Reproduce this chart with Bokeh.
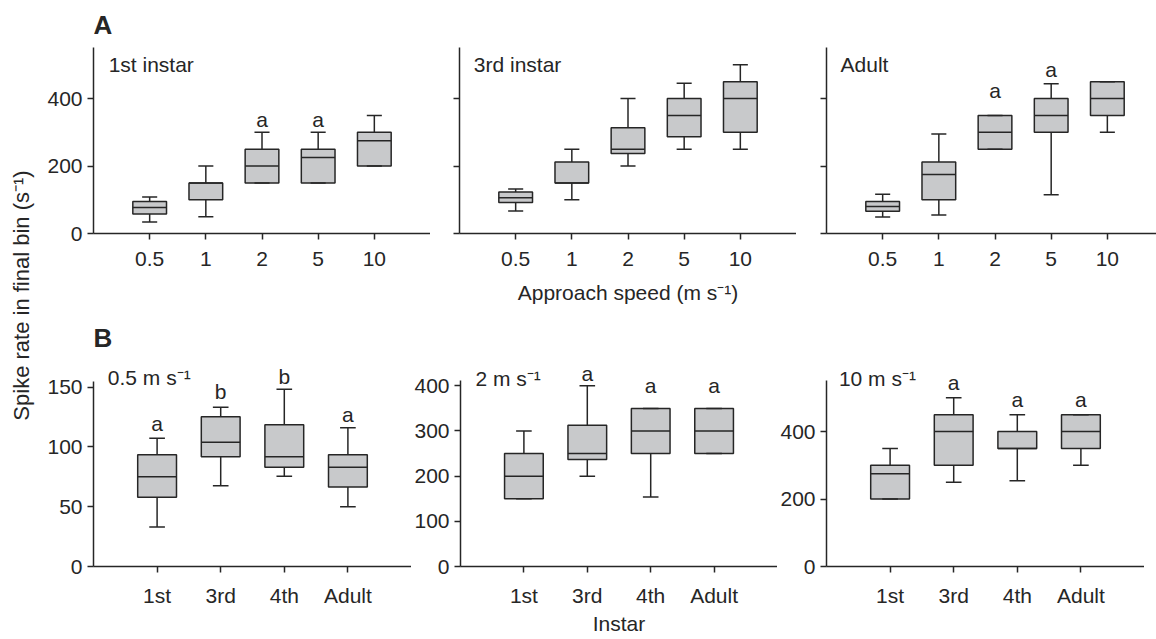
import numpy as np
from bokeh.plotting import figure
from bokeh.layouts import row, column
from bokeh.models import Range1d, FixedTicker
from bokeh.core.properties import value
from bokeh.embed import file_html
from bokeh.resources import INLINE

# ---------------- data ----------------
speeds = ["0.5", "1", "2", "5", "10"]
instars = ["1st", "3rd", "4th", "Adult"]

# Panel A (spike rate vs approach speed)
a1_lo  = [34, 50, 150, 150, 200]
a1_q1  = [58, 100, 150, 150, 200]
a1_med = [77, 150, 200, 225, 275]
a1_q3  = [95, 150, 250, 250, 300]
a1_hi  = [108, 200, 300, 300, 350]
a1_sig = ["", "", "a", "a", ""]
a1_sig_y = [0, 0, 339, 339, 0]

a2_lo  = [67, 100, 200, 250, 250]
a2_q1  = [92, 150, 237, 287, 300]
a2_med = [106, 150, 250, 350, 400]
a2_q3  = [123, 212, 313, 400, 450]
a2_hi  = [132, 250, 400, 445, 500]

a3_lo  = [49, 55, 250, 115, 300]
a3_q1  = [66, 100, 250, 300, 350]
a3_med = [80, 175, 300, 350, 400]
a3_q3  = [95, 212, 350, 400, 450]
a3_hi  = [116, 295, 350, 444, 450]
a3_sig = ["", "", "a", "a", ""]
a3_sig_y = [0, 0, 425, 487, 0]

# Panel B (spike rate vs instar)
b1_lo  = [33, 67.5, 75.5, 50]
b1_q1  = [58, 91.7, 83, 66.4]
b1_med = [75, 104, 91.7, 83]
b1_q3  = [93.4, 125.2, 118.5, 93.4]
b1_hi  = [107.3, 133.3, 148.3, 116]
b1_sig = ["a", "b", "b", "a"]
b1_sig_y = [119.4, 146.0, 158.5, 127.5]

b2_lo  = [150, 200, 154, 250]
b2_q1  = [150, 237, 250, 250]
b2_med = [200, 250, 300, 300]
b2_q3  = [250, 313, 350, 350]
b2_hi  = [300, 400, 350, 350]
b2_sig = ["", "a", "a", "a"]
b2_sig_y = [0, 428, 400, 400]

b3_lo  = [200, 250, 254, 300]
b3_q1  = [200, 300, 350, 350]
b3_med = [275, 400, 350, 400]
b3_q3  = [300, 450, 400, 450]
b3_hi  = [350, 500, 450, 450]
b3_sig = ["", "a", "a", "a"]
b3_sig_y = [0, 544, 496, 494]

# ---------------- style ----------------
FONT = "Liberation Sans"
INK = "#262626"
FILL = "#c8c9cb"
FS = "21px"


def make_fig(width, height, x_end, y_end, mb_left, mb_top, mb_bottom,
             ticks, ylabels, axis_top, xlabels, tick_standoff):
    p = figure(width=width, height=height,
               x_range=Range1d(0, x_end), y_range=Range1d(0, y_end),
               output_backend="svg", toolbar_location=None,
               min_border_left=mb_left, min_border_right=0,
               min_border_top=mb_top, min_border_bottom=mb_bottom)
    p.grid.visible = False
    p.outline_line_color = None
    p.background_fill_color = "white"
    p.border_fill_color = "white"
    for ax in (p.xaxis[0], p.yaxis[0]):
        ax.axis_line_color = INK
        ax.axis_line_width = 1.5
        ax.major_tick_line_color = INK
        ax.major_tick_line_width = 1.5
        ax.major_tick_out = 6
        ax.major_tick_in = 0
        ax.minor_tick_line_color = None
        ax.major_label_text_font = FONT
        ax.major_label_text_font_size = FS
        ax.major_label_text_color = INK
        ax.axis_label_text_font = FONT
        ax.axis_label_text_font_size = FS
        ax.axis_label_text_font_style = "normal"
        ax.axis_label_text_color = INK
    p.yaxis.ticker = FixedTicker(ticks=ticks)
    p.yaxis.bounds = (0, axis_top)
    p.yaxis.major_label_standoff = 5
    if not ylabels:
        p.yaxis.major_label_overrides = {t: "" for t in ticks}
    xs = list(range(1, len(xlabels) + 1))
    p.xaxis.ticker = FixedTicker(ticks=xs)
    p.xaxis.major_label_overrides = {i: lab for i, lab in zip(xs, xlabels)}
    p.xaxis.major_label_standoff = tick_standoff
    return p


def draw_boxes(p, lo, q1, med, q3, hi, box_w, cap_half):
    xs = np.arange(1, len(med) + 1, dtype=float)
    p.vbar(x=xs, bottom=q1, top=q3, width=box_w, fill_color=FILL,
           line_color=INK, line_width=1.5)
    p.segment(x0=xs - box_w / 2, x1=xs + box_w / 2, y0=med, y1=med,
              line_color=INK, line_width=1.5)
    p.segment(x0=xs, x1=xs, y0=q3, y1=hi, line_color=INK, line_width=1.5)
    p.segment(x0=xs, x1=xs, y0=q1, y1=lo, line_color=INK, line_width=1.5)
    p.segment(x0=xs - cap_half, x1=xs + cap_half, y0=hi, y1=hi,
              line_color=INK, line_width=1.5)
    p.segment(x0=xs - cap_half, x1=xs + cap_half, y0=lo, y1=lo,
              line_color=INK, line_width=1.5)


def draw_sig(p, sig, sig_y):
    xs = [i + 1 for i, s in enumerate(sig) if s]
    ys = [y for s, y in zip(sig, sig_y) if s]
    txt = [s for s in sig if s]
    p.text(x=xs, y=ys, text=txt, text_align="center",
           text_baseline="middle", text_font=value(FONT),
           text_font_size=FS, text_color=INK)


def panel_text(p, x, y, txt, size=FS, style="normal"):
    p.text(x=[x], y=[y], text=[txt], text_align="left",
           text_baseline="middle", text_font=value(FONT),
           text_font_size=size, text_font_style=style, text_color=INK)


# ---------------- row A ----------------
A_H, A_TOP = 320, 0
A_BOT = A_H - 233
A_YEND = 233 / 0.3375
A_BOX, A_CAP = 0.6, 0.134

fa1 = make_fig(386, A_H, 6, A_YEND, 49, A_TOP, A_BOT, [0, 200, 400], True, 550,
               speeds, 12)
draw_boxes(fa1, a1_lo, a1_q1, a1_med, a1_q3, a1_hi, A_BOX, A_CAP)
draw_sig(fa1, a1_sig, a1_sig_y)
panel_text(fa1, 0.27, 500, "1st instar")
panel_text(fa1, 0.0, 617, "A", size="26px", style="bold")

fa2 = make_fig(366, A_H, 6, A_YEND, 29, A_TOP, A_BOT, [0, 200, 400], False, 550,
               speeds, 12)
draw_boxes(fa2, a2_lo, a2_q1, a2_med, a2_q3, a2_hi, A_BOX, A_CAP)
panel_text(fa2, 0.255, 501, "3rd instar")
fa2.xaxis.axis_label = "Approach speed (m s\u207b\u00b9)"
fa2.xaxis.axis_label_standoff = 12

fa3 = make_fig(360, A_H, 330 / 56.17, A_YEND, 30, A_TOP, A_BOT, [0, 200, 400],
               False, 550, speeds, 12)
draw_boxes(fa3, a3_lo, a3_q1, a3_med, a3_q3, a3_hi, A_BOX, A_CAP)
draw_sig(fa3, a3_sig, a3_sig_y)
panel_text(fa3, 0.25, 501, "Adult")

# ---------------- row B ----------------
B_H, B_TOP, B_BOT = 639 - A_H, 0, 73
B_FRAME = B_H - B_BOT
B_BOX, B_CAP = 0.61, 0.123

fb1 = make_fig(367, B_H, 5, B_FRAME / 1.1956, 49, B_TOP, B_BOT,
               [0, 50, 100, 150], True, 155, instars, 11)
draw_boxes(fb1, b1_lo, b1_q1, b1_med, b1_q3, b1_hi, B_BOX, B_CAP)
draw_sig(fb1, b1_sig, b1_sig_y)
panel_text(fb1, 0.225, 157.7, "0.5 m s\u207b\u00b9")
panel_text(fb1, 0.0, 191, "B", size="26px", style="bold")

fb2 = make_fig(366, B_H, 5, B_FRAME / 0.45167, 48, B_TOP, B_BOT,
               [0, 100, 200, 300, 400], True, 411, instars, 11)
draw_boxes(fb2, b2_lo, b2_q1, b2_med, b2_q3, b2_hi, B_BOX, B_CAP)
draw_sig(fb2, b2_sig, b2_sig_y)
panel_text(fb2, 0.237, 417, "2 m s\u207b\u00b9")
fb2.xaxis.axis_label = "Instar"
fb2.xaxis.axis_label_standoff = 2

fb3 = make_fig(367, B_H, 5, B_FRAME / 0.3375, 49, B_TOP, B_BOT, [0, 200, 400],
               True, 550, instars, 11)
draw_boxes(fb3, b3_lo, b3_q1, b3_med, b3_q3, b3_hi, B_BOX, B_CAP)
draw_sig(fb3, b3_sig, b3_sig_y)
panel_text(fb3, 0.195, 558, "10 m s\u207b\u00b9")

# ---------------- shared y label ----------------
TOTAL_H = A_H + B_H
fy = figure(width=44, height=TOTAL_H, x_range=Range1d(0, 44),
            y_range=Range1d(0, TOTAL_H), output_backend="svg",
            toolbar_location=None, min_border=0)
fy.axis.visible = False
fy.grid.visible = False
fy.outline_line_color = None
fy.text(x=[21], y=[TOTAL_H - 295], text=["Spike rate in final bin (s\u207b\u00b9)"],
        angle=np.pi / 2, text_align="center", text_baseline="middle",
        text_font=value(FONT), text_font_size="22px", text_color=INK)

layout = row(fy, column(row(fa1, fa2, fa3), row(fb1, fb2, fb3)))

open("out.html", "w").write(file_html(layout, INLINE))
